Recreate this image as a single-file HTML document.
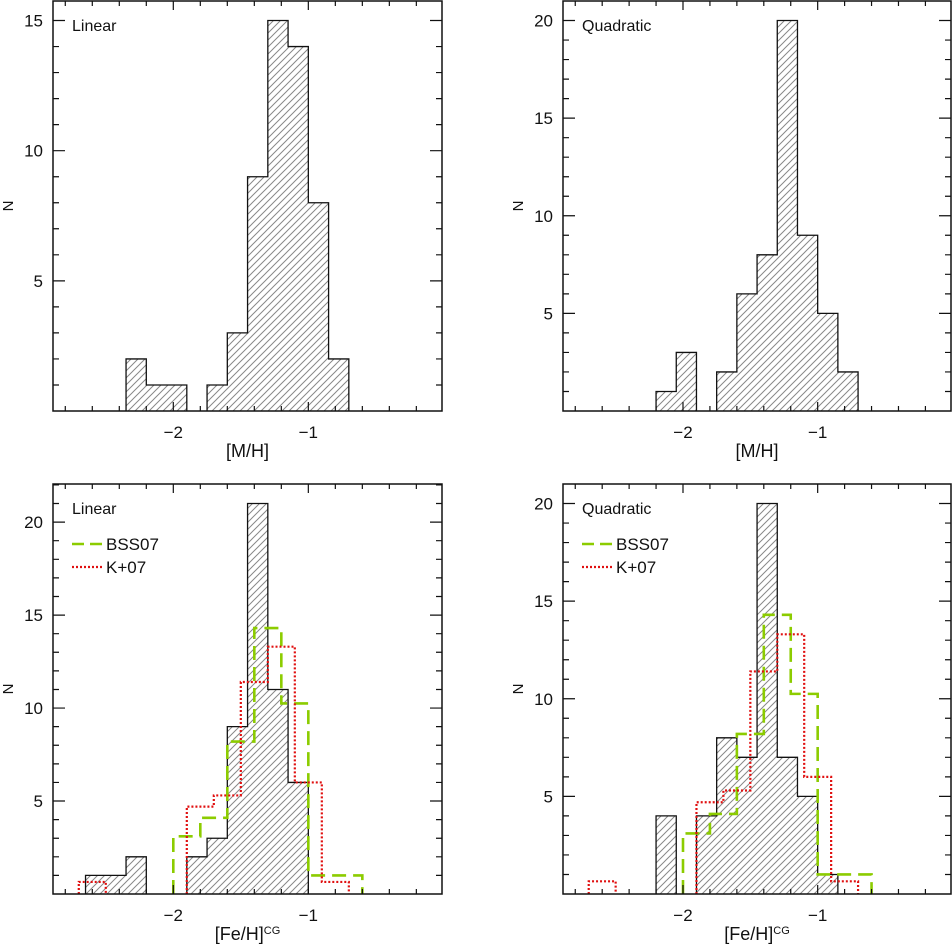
<!DOCTYPE html>
<html><head><meta charset="utf-8"><style>
body{margin:0;background:#fff;width:952px;height:945px;overflow:hidden}
svg text{font-family:"Liberation Sans","DejaVu Sans",sans-serif;fill:#111}
</style></head><body>
<svg id="fig" width="952" height="945" viewBox="0 0 952 945" xmlns="http://www.w3.org/2000/svg">
<defs>
<pattern id="hatch" patternUnits="userSpaceOnUse" width="7" height="7">
<path d="M-1,8 L8,-1 M-2,2 L2,-2 M5,9 L9,5" stroke="#888" stroke-width="1"/>
</pattern>
</defs>
</svg>
<script>
// ---- data ----
const binWidthMH = 0.15;
const tlStart = -2.35;
const tlCounts = [2,1,1,0,1,3,9,15,14,8,2];
const trStart = -2.2;
const trCounts = [1,3,0,2,6,8,20,9,5,2];
const blStart = -2.65;
const blCounts = [1,1,2,0,0,2,3,9,21,11,6];
const brStart = -2.2;
const brCounts = [4,0,4,8,7,20,7,5,1];
const binWidthRef = 0.2;
const bssStart = -2.0;
const bssCounts = [3.1,4.1,8.2,14.3,10.25,1.0,1.0];
const kStart = -2.7;
const kCounts = [0.65,0,0,0,4.7,5.3,11.4,13.3,6.0,0.65];
const xTickLabels = ["\u22122","\u22121"];
const xTickValues = [-2,-1];

const NS="http://www.w3.org/2000/svg";
const svg=document.getElementById('fig');
function mk(tag,attrs,parent){const e=document.createElementNS(NS,tag);for(const k in attrs)e.setAttribute(k,attrs[k]);(parent||svg).appendChild(e);return e;}

function panel(name,x0,y0,x1,y1,ymax,yLabels,start,counts,label,xtitle,sup,legend){
  const g=mk('g',{});
  
  
  const xmin=-2.891,xmax=-0.01;
  const X=v=>x0+(v-xmin)/(xmax-xmin)*(x1-x0);
  const Y=v=>y1-v/ymax*(y1-y0);
  function stepPath(st,w,cs){
    let d='';let started=false;
    cs.forEach((c,i)=>{const a=st+i*w,b=a+w;
      if(c>0){ if(!started){d+='M'+X(a)+','+Y(0);started=true;}
        d+=' L'+X(a)+','+Y(c)+' L'+X(b)+','+Y(c);
        const nx=cs[i+1]; if(!(nx>0)){d+=' L'+X(b)+','+Y(0);started=false;}
      }});
    return d;
  }
  const hd=stepPath(start,binWidthMH,counts);
  const hf=mk('path',{d:hd,fill:'url(#hatch)',stroke:'#111','stroke-width':1.3},g);
  
  
  if(legend){
    const gp=mk('path',{d:stepPath(bssStart,binWidthRef,bssCounts),fill:'none',stroke:'#8ccc00','stroke-width':2.6,'stroke-dasharray':'14,7'},g);
    
    
    const rp=mk('path',{d:stepPath(kStart,binWidthRef,kCounts),fill:'none',stroke:'#e01010','stroke-width':2.2,'stroke-dasharray':'2,2'},g);
    
    
  }
  const fr=mk('rect',{x:x0,y:y0,width:x1-x0,height:y1-y0,fill:'none',stroke:'#111','stroke-width':1.5},g);
  
  
  let td='';
  for(let i=0;i<=13;i++){const v=-2.8+i*0.2;const px=X(v);const major=Math.abs(v-Math.round(v))<1e-6;const L=major?9:5;
    td+=`M${px},${y1} v${-L} M${px},${y0} v${L} `;}
  for(let v=1;v<ymax;v++){const py=Y(v);const L=(v%5===0)?12:6;
    td+=`M${x0},${py} h${L} M${x1},${py} h${-L} `;}
  mk('path',{d:td,stroke:'#111','stroke-width':1.2,fill:'none'},g);
  xTickValues.forEach((v,i)=>{const t=mk('text',{x:X(v),y:y1+27,'font-size':17,'text-anchor':'middle'},g);t.textContent=xTickLabels[i];
    });
  yLabels.forEach(v=>{const t=mk('text',{x:x0-10,y:Y(v)+6,'font-size':17,'text-anchor':'end'},g);t.textContent=String(v);
    });
  const yt=mk('text',{x:0,y:0,'font-size':15,'text-anchor':'middle',transform:`translate(${x0-40},${(y0+y1)/2}) rotate(-90)`},g);
  yt.textContent='N';
  const xt=mk('text',{x:(x0+x1)/2,y:y1+46,'font-size':18,'text-anchor':'middle'},g);
  xt.textContent=xtitle;
  if(sup){const ts=mk('tspan',{'font-size':11,dy:-6},xt);ts.textContent=sup;}
  const pl=mk('text',{x:x0+19,y:y0+30,'font-size':16},g);pl.textContent=label;
  
  if(legend){
    const lg=mk('g',{},g);
    mk('path',{d:`M${x0+19},${y0+60} h30`,stroke:'#8ccc00','stroke-width':2.6,'stroke-dasharray':'12,6'},lg);
    const a=mk('text',{x:x0+53,y:y0+66,'font-size':17},lg);a.textContent='BSS07';
    mk('path',{d:`M${x0+19},${y0+83} h30`,stroke:'#e01010','stroke-width':2.2,'stroke-dasharray':'2,2'},lg);
    const b=mk('text',{x:x0+53,y:y0+89,'font-size':17},lg);b.textContent='K+07';
  }
}
panel('panel-linear-mh',53,1,442,411,15.75,[5,10,15],tlStart,tlCounts,'Linear','[M/H]','',false);
panel('panel-quadratic-mh',563,1,951,411,21,[5,10,15,20],trStart,trCounts,'Quadratic','[M/H]','',false);
panel('panel-linear-feh',53,484,442,894,22.05,[5,10,15,20],blStart,blCounts,'Linear','[Fe/H]','CG',true);
panel('panel-quadratic-feh',563,484,951,894,21,[5,10,15,20],brStart,brCounts,'Quadratic','[Fe/H]','CG',true);
</script>
</body></html>
